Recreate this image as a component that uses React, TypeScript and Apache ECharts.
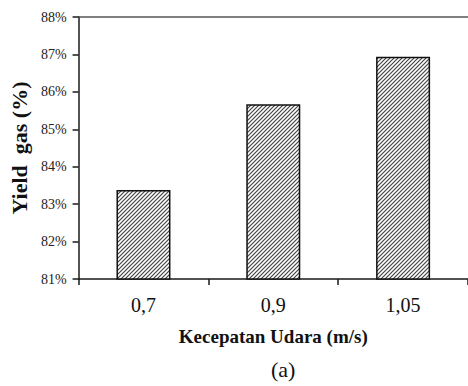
import React, { useEffect, useRef } from "react";
import * as echarts from "echarts";

const categories = ["0,7", "0,9", "1,05"];
const yieldValues = [83.38, 85.67, 86.94];
const yMin = 81;
const yMax = 88;
const yInterval = 1;

function makeHatch(): HTMLCanvasElement {
  const c = document.createElement("canvas");
  const s = 4;
  c.width = s;
  c.height = s;
  const ctx = c.getContext("2d")!;
  ctx.fillStyle = "#ffffff";
  ctx.fillRect(0, 0, s, s);
  ctx.strokeStyle = "#444444";
  ctx.lineWidth = 1.2;
  ctx.beginPath();
  ctx.moveTo(-1, s + 1);
  ctx.lineTo(s + 1, -1);
  ctx.moveTo(-1, 1);
  ctx.lineTo(1, -1);
  ctx.moveTo(s - 1, s + 1);
  ctx.lineTo(s + 1, s - 1);
  ctx.stroke();
  return c;
}

export default function App() {
  const ref = useRef<HTMLDivElement>(null);
  useEffect(() => {
    if (!ref.current) return;
    const chart = echarts.init(ref.current, undefined, { renderer: "svg" });
    const font = "'Liberation Serif', 'DejaVu Serif', serif";
    const axisColor = "#1a1a1a";
    chart.setOption({
      animation: false,
      backgroundColor: "#ffffff",
      grid: { left: 77, top: 17, bottom: 107, right: -9, containLabel: false },
      xAxis: [
        {
          type: "category",
          data: categories,
          position: "bottom",
          axisLine: { lineStyle: { color: axisColor, width: 1.5 } },
          axisTick: { show: true, length: 6, lineStyle: { color: axisColor, width: 1.5 } },
          axisLabel: { color: "#111", fontFamily: font, fontSize: 20, margin: 16 },
          name: "Kecepatan Udara (m/s)",
          nameLocation: "middle",
          nameGap: 48,
          nameTextStyle: { color: "#111", fontFamily: font, fontSize: 19, fontWeight: "bold" },
        },
        {
          type: "category",
          data: categories,
          position: "top",
          axisLine: { show: true, lineStyle: { color: "#555", width: 1.5 } },
          axisTick: { show: false },
          axisLabel: { show: false },
        },
      ],
      yAxis: {
        type: "value",
        min: yMin,
        max: yMax,
        interval: yInterval,
        axisLine: { show: true, lineStyle: { color: axisColor, width: 1.5 } },
        axisTick: { show: true, length: 6, lineStyle: { color: axisColor, width: 1.5 } },
        splitLine: { show: false },
        axisLabel: {
          color: "#222",
          fontFamily: font,
          fontSize: 14,
          margin: 12,
          formatter: "{value}%",
        },
        name: "Yield  gas (%)",
        nameLocation: "middle",
        nameGap: 38,
        nameTextStyle: { color: "#111", fontFamily: font, fontSize: 22, fontWeight: "bold" },
      },
      graphic: [
        {
          type: "text",
          left: 271,
          top: 358,
          style: { text: "(a)", font: "22px 'Liberation Serif', serif", fill: "#111" },
        },
      ],
      series: [
        {
          type: "bar",
          xAxisIndex: 0,
          data: yieldValues,
          barWidth: 54,
          itemStyle: {
            color: { image: makeHatch(), repeat: "repeat" },
            borderColor: "#111",
            borderWidth: 1.5,
          },
        },
      ],
    });
    return () => chart.dispose();
  }, []);
  return (
    <div
      ref={ref}
      style={{ position: "fixed", left: 0, top: 0, width: 468, height: 386 }}
    />
  );
}
